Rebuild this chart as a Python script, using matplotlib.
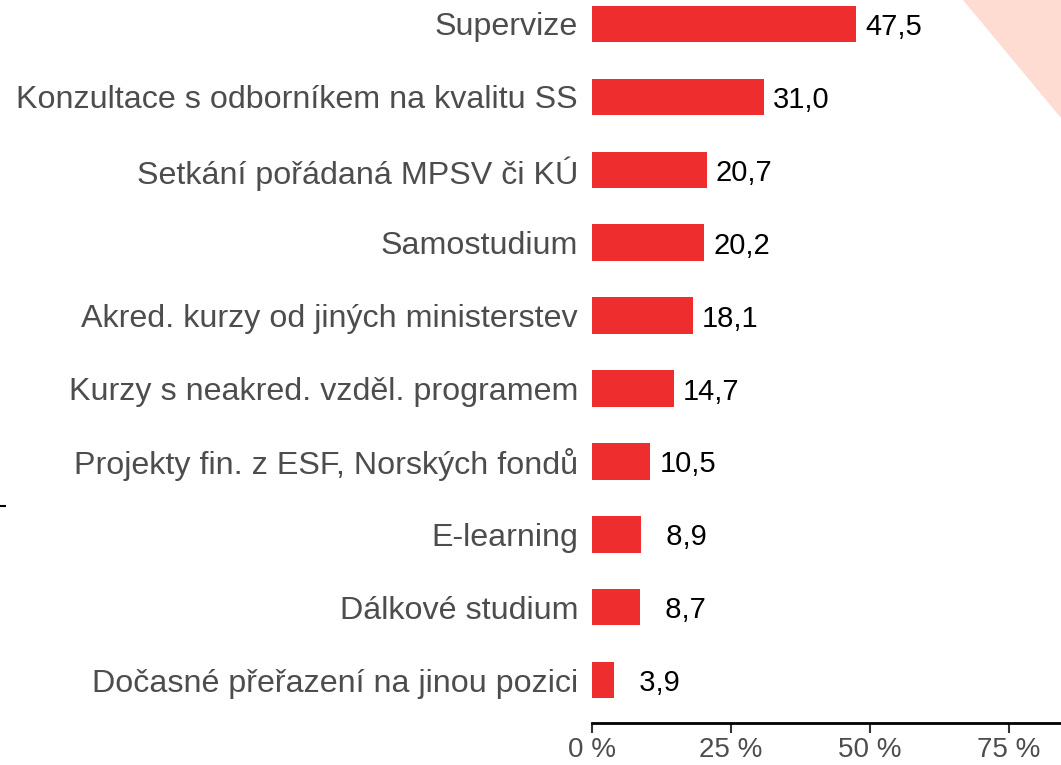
import matplotlib
matplotlib.use("Agg")
import matplotlib.pyplot as plt
from matplotlib.patches import Polygon
from matplotlib.lines import Line2D

categories = [
    "Supervize",
    "Konzultace s odborníkem na kvalitu SS",
    "Setkání pořádaná MPSV či KÚ",
    "Samostudium",
    "Akred. kurzy od jiných ministerstev",
    "Kurzy s neakred. vzděl. programem",
    "Projekty fin. z ESF, Norských fondů",
    "E-learning",
    "Dálkové studium",
    "Dočasné přeřazení na jinou pozici",
]
values = [47.5, 31.0, 20.7, 20.2, 18.1, 14.7, 10.5, 8.9, 8.7, 3.9]
xticks = [0, 25, 50, 75]
xtick_labels = ["0 %", "25 %", "50 %", "75 %"]

plt.rcParams['font.family'] = ['Liberation Sans', 'DejaVu Sans']

W, H = 1061, 765
fig = plt.figure(figsize=(W / 100, H / 100), dpi=100)

# decorative triangle top-right
tri = Polygon([(963 / W, 1.0), (1.0, 1.0), (1.0, 1 - 118 / H)], closed=True,
              transform=fig.transFigure, facecolor="#FFDCD2", edgecolor="none", zorder=0)
fig.patches.append(tri)
fig.lines.append(Line2D([0, 5 / W], [1 - 506 / H, 1 - 506 / H], transform=fig.transFigure,
                        color="black", lw=1.5))

left = 592 / W
bottom = (H - 723) / H
ax = fig.add_axes([left, bottom, 1 - left, 1 - bottom])
ax.patch.set_alpha(0)

pos = list(range(len(categories)))
ax.barh(pos, values, height=0.5, color="#EE2D2E", edgecolor="none", zorder=2)

for p, v in zip(pos, values):
    s = f"{v:.1f}".replace(".", ",")
    if v < 10:
        s = "\u2007" + s
    ax.text(v + 1.6, p, s, va="center_baseline", ha="left", fontsize=21, color="black")

ax.set_yticks(pos)
ax.set_yticklabels(categories, fontsize=23.2, color="#4D4D4D", va="center_baseline")
ax.tick_params(axis="y", length=0, pad=10)
ax.set_xticks(xticks)
ax.set_xticklabels(xtick_labels, fontsize=20, color="#4D4D4D")
ax.tick_params(axis="x", length=7, width=1.5, color="#333333", pad=3)

px = 5.56
ax.set_xlim(0, (W - 592) / px)
ax.set_ylim((723 - 24) / 72.9, -24 / 72.9)

for s in ["top", "right", "left"]:
    ax.spines[s].set_visible(False)
ax.spines["bottom"].set_linewidth(2)
ax.spines["bottom"].set_color("black")

fig.savefig("out.png", dpi=100)
